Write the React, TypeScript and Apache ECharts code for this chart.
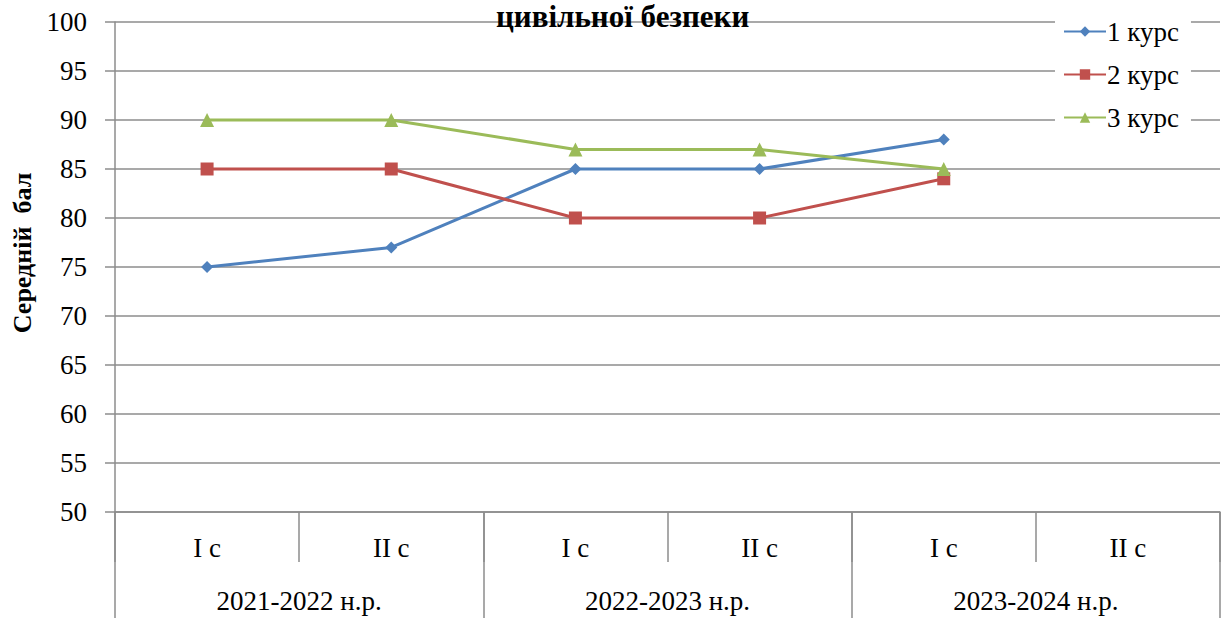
import React, { useEffect, useRef } from "react";
import * as echarts from "echarts";

const semesters = ["I c", "II c", "I c", "II c", "I c", "II c"];
const years = ["2021-2022 н.р.", "2022-2023 н.р.", "2023-2024 н.р."];
const course1 = [75, 77, 85, 85, 88, null];
const course2 = [85, 85, 80, 80, 84, null];
const course3 = [90, 90, 87, 87, 85, null];
const seriesNames = ["1 курс", "2 курс", "3 курс"];
const titleText = "цивільної безпеки";
const yAxisName = "Середній  бал";

const FONT = "Liberation Serif, Times New Roman, serif";
const GRAY = "#8c8c8c";

export default function App() {
  const ref = useRef<HTMLDivElement>(null);
  useEffect(() => {
    if (!ref.current) return;
    const chart = echarts.init(ref.current, null, { renderer: "svg" });
    chart.setOption({
      animation: false,
      backgroundColor: "#ffffff",
      title: {
        text: titleText,
        left: 496,
        top: 1,
        padding: 0,
        textStyle: { fontFamily: FONT, fontSize: 31, fontWeight: "bold", color: "#000" },
      },
      legend: {
        orient: "vertical",
        left: 1055,
        top: 14,
        padding: [4, 12, 4, 8],
        itemGap: 16,
        itemWidth: 42,
        itemHeight: 13,
        backgroundColor: "#ffffff",
        data: seriesNames,
        textStyle: { fontFamily: FONT, fontSize: 27, color: "#000", padding: [0, 0, 0, -4] },
      },
      grid: { left: 115, right: 7, top: 22, bottom: 106, containLabel: false, outerBoundsMode: "none" },
      xAxis: [
        {
          type: "category",
          data: semesters,
          boundaryGap: true,
          position: "bottom",
          axisLine: { show: true, lineStyle: { color: GRAY, width: 1.5 } },
          axisTick: { show: true, interval: 0, length: 50, lineStyle: { color: GRAY, width: 1.5 } },
          axisLabel: { interval: 0, margin: 22, fontFamily: FONT, fontSize: 27, color: "#000" },
          splitLine: { show: false },
        },
        {
          type: "category",
          data: years,
          boundaryGap: true,
          position: "bottom",
          axisLine: { show: false },
          axisTick: { show: true, interval: 0, length: 110, lineStyle: { color: GRAY, width: 1.5 } },
          axisLabel: { interval: 0, margin: 75, fontFamily: FONT, fontSize: 27, color: "#000" },
          splitLine: { show: false },
        },
      ],
      yAxis: {
        type: "value",
        min: 50,
        max: 100,
        interval: 5,
        name: yAxisName,
        nameLocation: "middle",
        nameGap: 78,
        nameRotate: 90,
        nameTextStyle: { fontFamily: FONT, fontSize: 26, fontWeight: "bold", color: "#000", padding: [0, 0, 0, 28] },
        axisLine: { show: true, lineStyle: { color: GRAY, width: 1.5 } },
        axisTick: { show: true, length: 10, lineStyle: { color: GRAY, width: 1.5 } },
        axisLabel: { margin: 28, fontFamily: FONT, fontSize: 27, color: "#000" },
        splitLine: { show: true, lineStyle: { color: GRAY, width: 1.5 } },
      },
      series: [
        {
          name: seriesNames[0],
          type: "line",
          data: course1,
          symbol: "diamond",
          symbolSize: 12,
          itemStyle: { color: "#4F81BD" },
          lineStyle: { color: "#4F81BD", width: 3 },
        },
        {
          name: seriesNames[1],
          type: "line",
          data: course2,
          symbol: "rect",
          symbolSize: 13,
          itemStyle: { color: "#C0504D" },
          lineStyle: { color: "#C0504D", width: 3 },
        },
        {
          name: seriesNames[2],
          type: "line",
          data: course3,
          symbol: "triangle",
          symbolSize: 14,
          itemStyle: { color: "#9BBB59" },
          lineStyle: { color: "#9BBB59", width: 3 },
        },
      ],
    });
    return () => chart.dispose();
  }, []);
  return (
    <div
      ref={ref}
      style={{ position: "absolute", left: 0, top: 0, width: 1227, height: 618, background: "#fff" }}
    />
  );
}
